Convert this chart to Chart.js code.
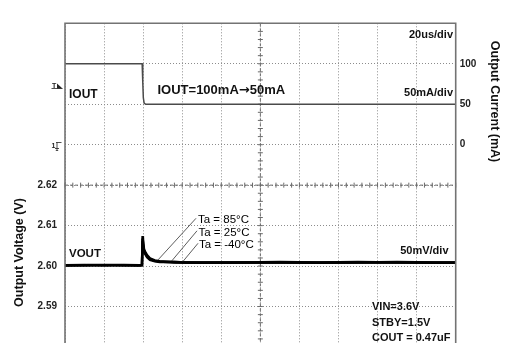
<!DOCTYPE html>
<html>
<head>
<meta charset="utf-8">
<script src="https://cdn.jsdelivr.net/npm/chart.js@4/dist/chart.umd.min.js"></script>
<style>
  html, body { margin: 0; padding: 0; background: #fff; overflow: hidden; }
  canvas { display: block; }
</style>
</head>
<body>
<canvas id="scope" width="505" height="361"></canvas>
<script>
// Load transient: output current step and the output-voltage response (three ambient temperatures)
const currentTimeUs = [0, 20, 39.5, 39.8, 40.1, 40.5, 41.3, 60, 100, 150, 200];
const ioutMa        = [100, 100, 100, 78, 58, 51.5, 50, 50, 50, 50, 50];

const voltTimeUs = [0, 10, 20, 30, 38, 39.4, 39.7, 39.9, 40.2, 40.5, 41.0, 42.0, 43.5, 46.0, 48.5, 52, 56, 62, 70, 90, 110, 130, 150, 170, 190, 200];
const vout85   = [2.6002, 2.6003, 2.6002, 2.6003, 2.6002, 2.6003, 2.6074, 2.6066, 2.6052, 2.6041, 2.6036, 2.6027, 2.6019, 2.6014, 2.6012, 2.6011, 2.6010, 2.6009, 2.6009, 2.6009, 2.6010, 2.6009, 2.6009, 2.6010, 2.6009, 2.6009];
const vout25   = [2.6002, 2.6002, 2.6003, 2.6002, 2.6002, 2.6002, 2.6068, 2.6060, 2.6047, 2.6038, 2.6033, 2.6024, 2.6017, 2.6013, 2.6011, 2.6010, 2.6010, 2.6009, 2.6009, 2.6009, 2.6009, 2.6009, 2.6010, 2.6009, 2.6009, 2.6009];
const voutM40  = [2.6001, 2.6002, 2.6002, 2.6002, 2.6001, 2.6002, 2.6062, 2.6055, 2.6043, 2.6035, 2.6030, 2.6022, 2.6015, 2.6012, 2.6010, 2.6010, 2.6009, 2.6009, 2.6008, 2.6009, 2.6009, 2.6008, 2.6009, 2.6009, 2.6008, 2.6008];

const tempLabels = ['Ta = 85°C', 'Ta = 25°C', 'Ta = -40°C'];
const tempAnchorUs = [47.6, 54.6, 60.4];

// Screen divisions: 10 x 8, 20 µs/div horizontally
const voltGrid = [2.58, 2.59, 2.60, 2.61, 2.62, 2.63, 2.64, 2.65, 2.66];
const voltTickLabels = ['2.59', '2.60', '2.61', '2.62'];
const currentTicks = [0, 50, 100];

const FONT = '"Liberation Sans", Arial, sans-serif';

function toXY(xs, ys) { return xs.map((x, i) => ({ x: x, y: ys[i] })); }

function valueAt(xs, ys, x) {
  for (let i = 1; i < xs.length; i++) {
    if (x <= xs[i]) {
      const f = (x - xs[i - 1]) / (xs[i] - xs[i - 1]);
      return ys[i - 1] + f * (ys[i] - ys[i - 1]);
    }
  }
  return ys[ys.length - 1];
}

const scopeDecor = {
  id: 'scopeDecor',
  beforeDatasetsDraw(chart) {
    const { ctx, chartArea: a, scales } = chart;
    const xs = scales.x, yv = scales.yV;
    const cx = xs.getPixelForValue(100);
    const cy = yv.getPixelForValue(2.62);
    ctx.save();
    // centre crosshair with minor division marks
    ctx.strokeStyle = '#6a6a6a';
    ctx.lineWidth = 1;
    ctx.setLineDash([3, 2]);
    ctx.beginPath();
    ctx.moveTo(cx, a.top); ctx.lineTo(cx, a.bottom);
    ctx.moveTo(a.left, cy); ctx.lineTo(a.right, cy);
    ctx.stroke();
    ctx.setLineDash([]);
    ctx.beginPath();
    for (let t = 0; t <= 200; t += 4) {
      const px = xs.getPixelForValue(t);
      ctx.moveTo(px, cy - 2.5); ctx.lineTo(px, cy + 2.5);
    }
    for (let v = 2.58; v <= 2.6601; v += 0.002) {
      const py = yv.getPixelForValue(v);
      ctx.moveTo(cx - 2.5, py); ctx.lineTo(cx + 2.5, py);
    }
    ctx.stroke();
    ctx.restore();
  },
  afterDatasetsDraw(chart) {
    const { ctx, chartArea: a, scales } = chart;
    const xs = scales.x, yv = scales.yV;
    ctx.save();
    // screen frame
    ctx.strokeStyle = '#737373';
    ctx.lineWidth = 1.6;
    ctx.beginPath();
    ctx.moveTo(a.left, a.bottom); ctx.lineTo(a.left, a.top);
    ctx.lineTo(a.right, a.top); ctx.lineTo(a.right, a.bottom);
    ctx.stroke();

    // temperature leader lines
    const series = [vout85, vout25, voutM40];
    const labelY = [223.3, 235.8, 248.3];
    ctx.strokeStyle = '#333';
    ctx.lineWidth = 0.8;
    ctx.beginPath();
    tempAnchorUs.forEach((t, i) => {
      const px = xs.getPixelForValue(t);
      const py = yv.getPixelForValue(valueAt(voltTimeUs, series[i], t));
      ctx.moveTo(px, py - 1);
      ctx.lineTo(196 + i * 1, labelY[i] - 5);
    });
    ctx.stroke();

    ctx.fillStyle = '#111';
    ctx.textBaseline = 'alphabetic';
    ctx.font = 'bold 12px ' + FONT;
    ctx.textAlign = 'left';
    ctx.fillText('IOUT', 69, 98.3);
    // step annotation: arrow glyph taken from DejaVu for a bold, centred arrow
    let x0 = 157.5;
    ctx.font = 'bold 13px ' + FONT;
    ctx.fillText('IOUT=100mA', x0, 93.5);
    x0 += ctx.measureText('IOUT=100mA').width;
    ctx.font = 'bold 13px "DejaVu Sans", sans-serif';
    ctx.fillText('\u2192', x0, 93.5);
    x0 += ctx.measureText('\u2192').width;
    ctx.font = 'bold 13px ' + FONT;
    ctx.fillText('50mA', x0, 93.5);

    ctx.font = 'bold 11.5px ' + FONT;
    ctx.fillText('VOUT', 69, 257.3);

    ctx.font = 'bold 11px ' + FONT;
    ctx.textAlign = 'right';
    ctx.fillText('20us/div', 453, 38.3);
    ctx.fillText('50mA/div', 453, 95.7);
    ctx.fillText('50mV/div', 448.5, 254.2);

    ctx.textAlign = 'left';
    ctx.fillText('VIN=3.6V', 372, 310.3);
    ctx.fillText('STBY=1.5V', 372, 326);
    ctx.fillText('COUT = 0.47uF', 372, 340.7);

    ctx.font = '11.5px ' + FONT;
    ctx.fillStyle = '#000';
    tempLabels.forEach((s, i) => ctx.fillText(s, 198 + i * 0.5, labelY[i]));

    // trigger-level and channel-1 ground markers
    ctx.font = 'bold 7px ' + FONT;
    ctx.fillStyle = '#222';
    ctx.fillText('T', 52, 87.5);
    ctx.beginPath();
    ctx.moveTo(57, 83.5); ctx.lineTo(62.5, 88.5); ctx.lineTo(57, 88.5); ctx.closePath();
    ctx.fill();
    ctx.strokeStyle = '#222';
    ctx.lineWidth = 0.8;
    ctx.beginPath();
    ctx.moveTo(51.5, 88.5); ctx.lineTo(62.5, 88.5);
    ctx.stroke();
    ctx.fillText('1', 51.5, 147.5);
    ctx.beginPath();
    ctx.moveTo(56, 142.5); ctx.lineTo(61.5, 142.5);
    ctx.moveTo(57, 142.5); ctx.lineTo(57, 150);
    ctx.moveTo(55, 148.5); ctx.lineTo(59, 148.5);
    ctx.moveTo(55.8, 150.5); ctx.lineTo(58.2, 150.5);
    ctx.stroke();

    // axis titles
    ctx.fillStyle = '#111';
    ctx.font = 'bold 12.5px ' + FONT;
    ctx.textAlign = 'center';
    ctx.textBaseline = 'middle';
    ctx.save();
    ctx.translate(20, 252.5);
    ctx.rotate(-Math.PI / 2);
    ctx.fillText('Output Voltage (V)', 0, 0);
    ctx.restore();
    ctx.save();
    ctx.translate(494, 101.5);
    ctx.rotate(Math.PI / 2);
    ctx.fillText('Output Current (mA)', 0, 0);
    ctx.restore();
    ctx.restore();
  }
};

new Chart(document.getElementById('scope'), {
  type: 'line',
  data: {
    datasets: [
      { label: 'IOUT', data: toXY(currentTimeUs, ioutMa), yAxisID: 'yI', borderColor: '#4a4a4a', borderWidth: 1.5 },
      { label: tempLabels[2], data: toXY(voltTimeUs, voutM40), yAxisID: 'yV', borderColor: '#000', borderWidth: 2.4 },
      { label: tempLabels[1], data: toXY(voltTimeUs, vout25), yAxisID: 'yV', borderColor: '#000', borderWidth: 2.4 },
      { label: tempLabels[0], data: toXY(voltTimeUs, vout85), yAxisID: 'yV', borderColor: '#000', borderWidth: 2.4 }
    ]
  },
  options: {
    responsive: false,
    animation: false,
    layout: { padding: { top: 23.3, bottom: 4.5, left: 0, right: 0 } },
    elements: { point: { radius: 0 }, line: { tension: 0 } },
    plugins: { legend: { display: false }, tooltip: { enabled: false } },
    scales: {
      x: {
        type: 'linear', min: 0, max: 200,
        ticks: { display: false, stepSize: 20 },
        grid: { color: '#8c8c8c', lineWidth: 1, drawTicks: false },
        border: { display: false, dash: [1, 2] },
        afterFit(s) { s.height = 0; }
      },
      yV: {
        type: 'linear', position: 'left', min: 2.58, max: 2.66,
        afterBuildTicks(s) { s.ticks = voltGrid.map(v => ({ value: v })); },
        ticks: {
          padding: 8, color: '#222',
          font: { family: FONT, size: 10, weight: 'bold' },
          callback(v) { const s = Number(v).toFixed(2); return voltTickLabels.includes(s) ? s : ''; }
        },
        grid: { color: '#8c8c8c', lineWidth: 1, drawTicks: false },
        border: { display: false, dash: [1, 2] },
        afterFit(s) { s.width = 65; }
      },
      yI: {
        type: 'linear', position: 'right', min: -250, max: 150,
        afterBuildTicks(s) { s.ticks = currentTicks.map(v => ({ value: v })); },
        ticks: {
          padding: 4, color: '#222',
          font: { family: FONT, size: 10, weight: 'bold' }
        },
        grid: { display: false, drawTicks: false },
        border: { display: false },
        afterFit(s) { s.width = 49.3; }
      }
    }
  },
  plugins: [scopeDecor]
});
</script>
</body>
</html>
